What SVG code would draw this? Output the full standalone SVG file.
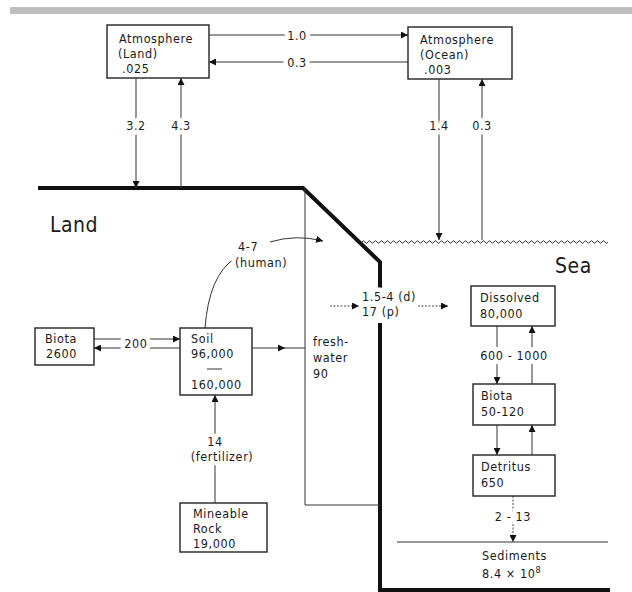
<svg xmlns="http://www.w3.org/2000/svg" width="632" height="592" viewBox="0 0 632 592">
<defs>
<marker id="ah" viewBox="0 0 10 10" refX="10" refY="5" markerWidth="7" markerHeight="7" markerUnits="userSpaceOnUse" orient="auto"><path d="M0,0 L10,5 L0,10 Z" fill="#111"/></marker>
<style>
text{font-family:"DejaVu Sans Condensed","DejaVu Sans","Liberation Sans",sans-serif;font-size:12.5px;letter-spacing:0.6px;fill:#1a1a1a}
.lbl{stroke:#fff;stroke-width:9px;paint-order:stroke;stroke-linejoin:round}
.mid{text-anchor:middle}
.big{font-size:21px;letter-spacing:0.5px}
.box{fill:#fff;stroke:#222;stroke-width:1.4}
.ln{fill:none;stroke:#333;stroke-width:1}
.dot{fill:none;stroke:#444;stroke-width:1;stroke-dasharray:2 1.5}
.thick{fill:none;stroke:#111;stroke-width:4}
</style>
</defs>
<rect x="10" y="7" width="622" height="7" fill="#bdbdbd"/>

<g id="terrain">
<path class="thick" d="M38,188 H303 L380,262 V291 M380,323 V590 H610"/>
<path class="ln" d="M305,188 V505 H380"/>
<path class="ln" stroke-width="1.3" d="M362,242 q1.5,-2.5 3,0 t3,0 t3,0 t3,0 t3,0 t3,0 t3,0 t3,0 t3,0 t3,0 t3,0 t3,0 t3,0 t3,0 t3,0 t3,0 t3,0 t3,0 t3,0 t3,0 t3,0 t3,0 t3,0 t3,0 t3,0 t3,0 t3,0 t3,0 t3,0 t3,0 t3,0 t3,0 t3,0 t3,0 t3,0 t3,0 t3,0 t3,0 t3,0 t3,0 t3,0 t3,0 t3,0 t3,0 t3,0 t3,0 t3,0 t3,0 t3,0 t3,0 t3,0 t3,0 t3,0 t3,0 t3,0 t3,0 t3,0 t3,0 t3,0 t3,0 t3,0 t3,0 t3,0 t3,0 t3,0 t3,0 t3,0 t3,0 t3,0 t3,0 t3,0 t3,0 t3,0 t3,0 t3,0 t3,0 t3,0 t3,0 t3,0 t3,0 t3,0 t3,0"/>
<path class="ln" d="M397,542 H608"/>
<text class="big" x="50" y="232">Land</text>
<text class="big" x="555" y="273">Sea</text>
</g>

<g id="connectors">
<line class="ln" x1="209" y1="35" x2="408" y2="35" marker-end="url(#ah)"/>
<line class="ln" x1="408" y1="62" x2="209" y2="62" marker-end="url(#ah)"/>
<line class="ln" x1="136" y1="78" x2="136" y2="188" marker-end="url(#ah)"/>
<line class="ln" x1="181" y1="188" x2="181" y2="78" marker-end="url(#ah)"/>
<line class="ln" x1="439" y1="79" x2="439" y2="240" marker-end="url(#ah)"/>
<line class="ln" x1="482" y1="240" x2="482" y2="79" marker-end="url(#ah)"/>
<path class="ln" d="M205,328 Q209,276 234,259"/>
<path class="ln" d="M270,242 Q296,234 323,241" marker-end="url(#ah)"/>
<line class="ln" x1="94" y1="339" x2="180" y2="339" marker-end="url(#ah)"/>
<line class="ln" x1="180" y1="348" x2="94" y2="348" marker-end="url(#ah)"/>
<line class="ln" x1="252" y1="348" x2="285" y2="348" marker-end="url(#ah)"/>
<line class="ln" x1="284" y1="348" x2="305" y2="348"/>
<line class="dot" x1="330" y1="306" x2="359" y2="306" marker-end="url(#ah)"/>
<line class="dot" x1="418" y1="306" x2="448" y2="306" marker-end="url(#ah)"/>
<line class="ln" x1="215" y1="503" x2="215" y2="395" marker-end="url(#ah)"/>
<line class="ln" x1="497" y1="326" x2="497" y2="384" marker-end="url(#ah)"/>
<line class="ln" x1="532" y1="384" x2="532" y2="326" marker-end="url(#ah)"/>
<line class="ln" x1="497" y1="425" x2="497" y2="455" marker-end="url(#ah)"/>
<line class="ln" x1="532" y1="455" x2="532" y2="425" marker-end="url(#ah)"/>
<line class="dot" x1="513" y1="496" x2="513" y2="542" marker-end="url(#ah)"/>
<text class="lbl mid" x="297" y="40">1.0</text>
<text class="lbl mid" x="297" y="67">0.3</text>
<text class="lbl mid" x="136" y="130">3.2</text>
<text class="lbl mid" x="181" y="130">4.3</text>
<text class="lbl mid" x="439" y="130">1.4</text>
<text class="lbl mid" x="482" y="130">0.3</text>
<text class="lbl" x="238" y="251">4-7</text>
<text class="lbl" x="235" y="267">(human)</text>
<text class="lbl mid" x="136" y="348">200</text>
<text class="lbl" x="313" y="346">fresh-</text>
<text class="lbl" x="313" y="362">water</text>
<text class="lbl" x="313" y="378">90</text>
<text class="lbl" x="362" y="301">1.5-4 (d)</text>
<text class="lbl" x="362" y="316">17 (p)</text>
<text class="lbl mid" x="215" y="446">14</text>
<text class="lbl mid" x="222" y="461">(fertilizer)</text>
<text class="lbl mid" x="514" y="360">600 - 1000</text>
<text class="lbl mid" x="513" y="521">2 - 13</text>
</g>

<g id="atm-land"><rect class="box" x="107" y="25" width="102" height="53"/>
<text x="119" y="43">Atmosphere</text><text x="118" y="58">(Land)</text><text x="122" y="73">.025</text></g>
<g id="atm-ocean"><rect class="box" x="408" y="27" width="104" height="52"/>
<text x="420" y="44">Atmosphere</text><text x="420" y="59">(Ocean)</text><text x="424" y="74">.003</text></g>
<g id="biota-land"><rect class="box" x="35" y="328" width="59" height="37"/>
<text x="45" y="343">Biota</text><text x="46" y="358">2600</text></g>
<g id="soil"><rect class="box" x="180" y="328" width="72" height="67"/>
<text x="191" y="343">Soil</text><text x="191" y="358">96,000</text>
<line x1="207" y1="369" x2="222" y2="369" stroke="#333" stroke-width="1"/>
<text x="191" y="389">160,000</text></g>
<g id="rock"><rect class="box" x="180" y="503" width="87" height="49"/>
<text x="193" y="518">Mineable</text><text x="193" y="533">Rock</text><text x="193" y="548">19,000</text></g>
<g id="dissolved"><rect class="box" x="471" y="286" width="84" height="40"/>
<text x="480" y="302">Dissolved</text><text x="480" y="318">80,000</text></g>
<g id="biota-sea"><rect class="box" x="473" y="384" width="82" height="41"/>
<text x="481" y="400">Biota</text><text x="481" y="416">50-120</text></g>
<g id="detritus"><rect class="box" x="473" y="455" width="82" height="41"/>
<text x="481" y="471">Detritus</text><text x="481" y="487">650</text></g>
<g id="sediments">
<text x="482" y="560">Sediments</text><text x="482" y="578">8.4 × 10<tspan font-size="9" dy="-5">8</tspan></text></g>
</svg>
